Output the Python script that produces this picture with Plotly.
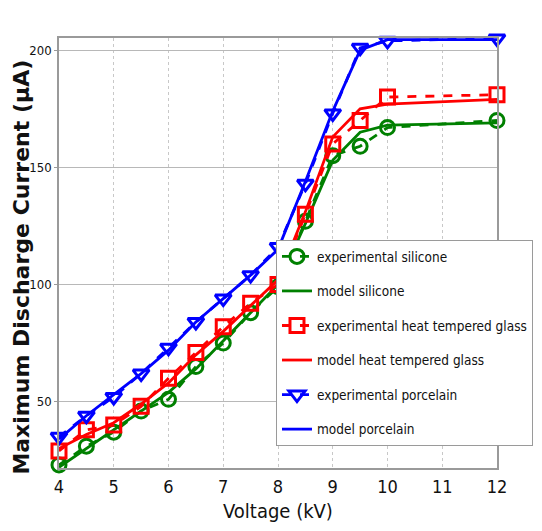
import plotly.graph_objects as go

voltage = [4, 4.5, 5, 5.5, 6, 6.5, 7, 7.5, 8, 8.5, 9, 9.5, 10, 12]

exp_silicone = [23, 31, 37, 46, 51, 65, 75, 88, 99, 127, 155, 159, 167, 170]
model_silicone = [22, 30, 38, 46, 54, 64, 76, 88, 100, 126, 153, 165, 168, 169]

exp_glass = [29, 38, 40, 48, 60, 71, 82, 92, 100, 130, 160, 170, 180, 181]
model_glass = [30, 36, 41, 49, 58, 70, 80, 91, 102, 131, 163, 175, 177, 179]

exp_porcelain = [35, 44, 52, 62, 73, 84, 94, 104, 116, 143, 173, 201, 204, 205]
model_porcelain = [34, 44, 53, 62, 72, 84, 94, 104, 115, 144, 174, 200, 204.5, 204.5]

x_ticks = [4, 5, 6, 7, 8, 9, 10, 11, 12]
y_ticks = [50, 100, 150, 200]

GREEN = "#008000"
RED = "#ff0000"
BLUE = "#0000ff"

series = [
    ("experimental silicone", exp_silicone, GREEN, "circle-open", True),
    ("model silicone", model_silicone, GREEN, None, False),
    ("experimental heat tempered glass", exp_glass, RED, "square-open", True),
    ("model heat tempered glass", model_glass, RED, None, False),
    ("experimental porcelain", exp_porcelain, BLUE, "triangle-down-open", True),
    ("model porcelain", model_porcelain, BLUE, None, False),
]

fig = go.Figure()
for i, (name, vals, color, sym, is_exp) in enumerate(series):
    if is_exp:
        fig.add_trace(go.Scatter(
            x=voltage, y=vals, name=name, mode="lines+markers",
            line=dict(color=color, width=2.8, dash="dash"),
            marker=dict(symbol=sym, size=14, color=color, line=dict(color=color, width=3)),
            cliponaxis=False, legendgroup=f"g{i}",
        ))
    else:
        fig.add_trace(go.Scatter(
            x=voltage, y=vals, name=name, mode="lines",
            line=dict(color=color, width=2.8),
            cliponaxis=False, legendgroup=f"g{i}",
        ))

narrow = "Liberation Sans Narrow, DejaVu Sans Condensed, Arial Narrow, sans-serif"

# page has an 8px body margin, so the figure is 534x523 drawn at (8, 8)
fig.update_layout(
    width=534, height=523,
    margin=dict(l=51, r=45, t=30, b=63, autoexpand=False),
    paper_bgcolor="white", plot_bgcolor="white",
    showlegend=True,
    legend=dict(
        x=0.4954, y=0.530, xanchor="left", yanchor="top",
        bgcolor="white", bordercolor="#9a9a9a", borderwidth=1,
        font=dict(family=narrow, size=13.5, color="#111111"),
        traceorder="grouped", tracegroupgap=14, itemwidth=30,
    ),
    xaxis=dict(
        range=[4, 12], tickmode="array", tickvals=x_ticks,
        ticktext=[str(v) for v in x_ticks],
        showgrid=True, gridcolor="#c8c8c8", griddash="dot", gridwidth=1,
        showline=True, linecolor="#9a9a9a", linewidth=2, mirror=True,
        ticks="", zeroline=False, ticklabelstandoff=1,
        tickfont=dict(family=narrow, size=18, color="#111111"),
        title=dict(text="Voltage (kV)", font=dict(family=narrow, size=20, color="#111111"), standoff=8),
    ),
    yaxis=dict(
        range=[21.7, 205.2], tickmode="array", tickvals=y_ticks,
        ticktext=[str(v) for v in y_ticks],
        showgrid=True, gridcolor="#b8b8b8", gridwidth=1,
        showline=True, linecolor="#9a9a9a", linewidth=1.5, mirror=True,
        ticks="outside", ticklen=3, tickcolor="#9a9a9a", zeroline=False,
        tickfont=dict(family=narrow, size=13, color="#111111"),
    ),
    annotations=[dict(
        text="<b>Maximum Discharge Current (μA)</b>",
        xref="paper", yref="paper", x=0, y=0.466,
        xanchor="center", yanchor="middle", xshift=-37,
        textangle=-90, showarrow=False,
        font=dict(family="DejaVu Sans", size=22, color="#111111"),
    )],
)

fig.write_html("out.html")
